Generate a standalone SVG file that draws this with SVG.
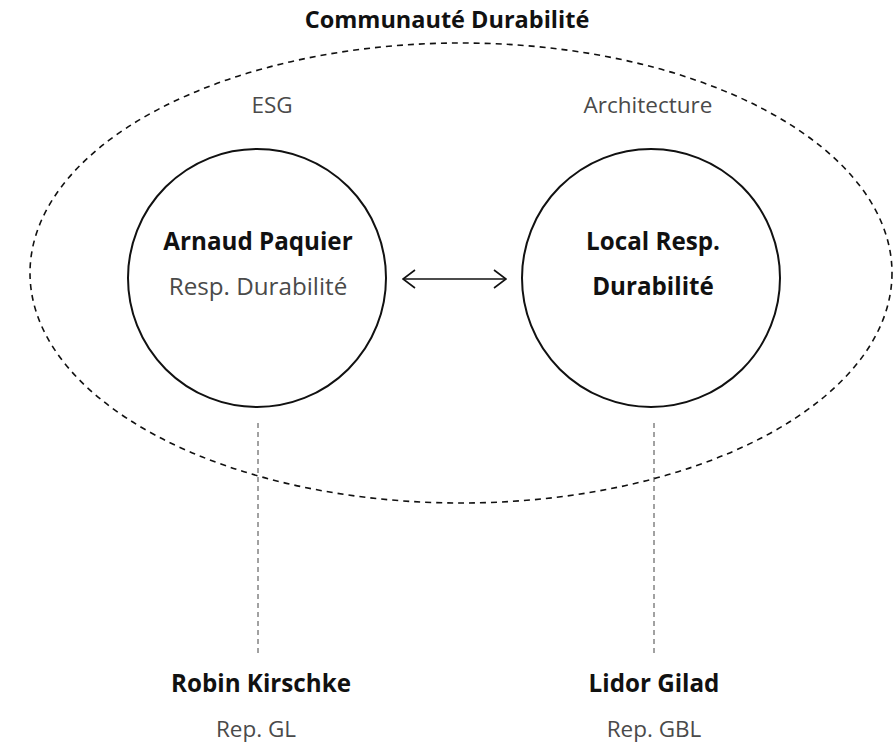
<svg xmlns="http://www.w3.org/2000/svg" width="894" height="746" viewBox="0 0 894 746">
<style>
text{font-family:"Open Sans","Liberation Sans",sans-serif;text-anchor:middle}
.b{font-weight:700;fill:#111;font-size:24.2px}
.r{font-weight:400;fill:#4a4a4a;font-size:24.2px}
.t{font-weight:700;fill:#111;font-size:23.5px}
.s{font-weight:400;fill:#4a4a4a;font-size:22.5px}
.node{fill:#fff;stroke:#111;stroke-width:2}
.group{fill:none;stroke:#111;stroke-width:1.6;stroke-dasharray:6 5}
.link{stroke:#444;stroke-width:1;stroke-dasharray:5 4;fill:none}
.arrow{stroke:#111;stroke-width:1.5;fill:none}
</style>
<defs>
<marker id="chev" viewBox="0 0 14 20" refX="13" refY="10" markerWidth="14" markerHeight="20" markerUnits="userSpaceOnUse" orient="auto-start-reverse">
<path d="M1 1 L13 10 L1 19" fill="none" stroke="#111" stroke-width="1.6"/>
</marker>
</defs>
<g id="community">
<ellipse class="group" cx="461" cy="273" rx="431" ry="230"/>
<text class="t" x="447" y="28">Communauté Durabilité</text>
<text class="s" x="272" y="113">ESG</text>
<text class="s" x="648" y="113">Architecture</text>
</g>
<g id="connectors">
<line class="arrow" x1="403" y1="279" x2="506" y2="279" marker-start="url(#chev)" marker-end="url(#chev)"/>
<line class="link" x1="258" y1="423" x2="258" y2="656"/>
<line class="link" x1="654" y1="423" x2="654" y2="656"/>
</g>
<g id="arnaud">
<circle class="node" cx="257" cy="278" r="129"/>
<text class="b" x="258" y="250">Arnaud Paquier</text>
<text class="r" x="258" y="295">Resp. Durabilité</text>
</g>
<g id="local">
<circle class="node" cx="651" cy="278" r="129"/>
<text class="b" x="653" y="250">Local Resp.</text>
<text class="b" x="653" y="295">Durabilité</text>
</g>
<g id="robin">
<text class="b" x="261" y="692">Robin Kirschke</text>
<text class="s" x="256" y="737">Rep. GL</text>
</g>
<g id="lidor">
<text class="b" x="654" y="692">Lidor Gilad</text>
<text class="s" x="654" y="737">Rep. GBL</text>
</g>
</svg>
